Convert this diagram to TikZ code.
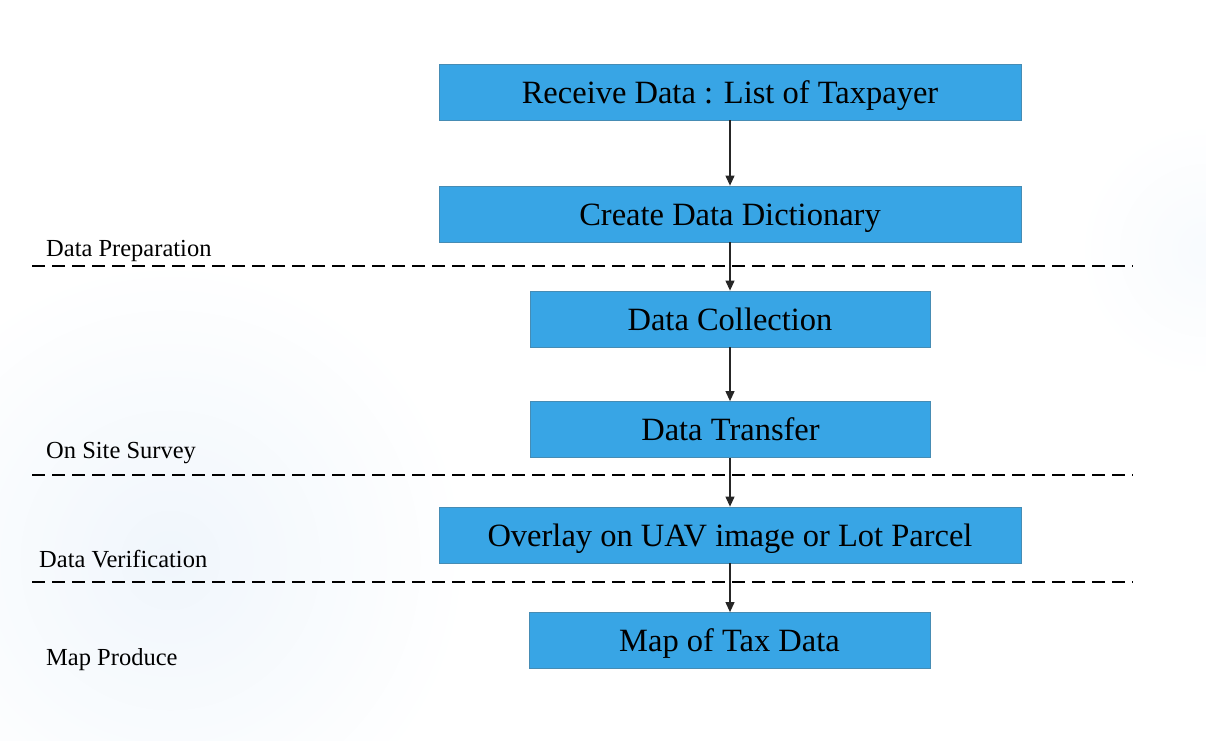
\documentclass[tikz,border=0pt]{standalone}
\usepackage{fontspec}
\setmainfont{Liberation Serif}
\usetikzlibrary{arrows.meta}
\definecolor{boxblue}{RGB}{56,165,229}
\definecolor{boxedge}{RGB}{70,140,180}
\definecolor{bgblue}{RGB}{240,246,252}
\begin{document}
\begin{tikzpicture}[x=1pt,y=-1pt,
  stepbox/.style={rectangle,fill=boxblue,draw=boxedge,line width=0.8pt,inner sep=0pt,
    minimum height=56pt,text height=24pt,text depth=2pt,font=\fontsize{32.5}{38}\selectfont},
  widebox/.style={stepbox,minimum width=582pt},
  narrowbox/.style={stepbox,minimum width=400pt},
  phase/.style={anchor=base west,inner sep=0pt,font=\fontsize{24.5}{29}\selectfont},
  sep/.style={line width=1.3pt,dash pattern=on 13pt off 7pt},
  flow/.style={line width=1.1pt,draw=black!85,-{Triangle[length=10pt,width=9pt]}}]
\useasboundingbox (0,0) rectangle (1206,740);
\fill[white] (0,0) rectangle (1206,740);
\begin{scope}
\clip (0,0) rectangle (1206,740);
\shade[inner color=bgblue,outer color=white] (170,560) circle (300);
\shade[inner color=bgblue!50,outer color=white] (1206,250) circle (130);
\end{scope}
% boxes
\node[widebox] (n1) at (730,92) {Receive Data : List of Taxpayer};
\node[widebox] (n2) at (730,214) {Create Data Dictionary};
\node[narrowbox] (n3) at (730,319) {Data Collection};
\node[narrowbox] (n4) at (730.5,429.5) {Data Transfer};
\node[widebox] (n5) at (730,535) {Overlay on UAV image or Lot Parcel};
\node[narrowbox,minimum width=401pt] (n6) at (729.5,640.5) {Map of Tax Data};
% phase separators
\coordinate (s1a) at (32,266); \coordinate (s1b) at (1133,266);
\coordinate (s2a) at (32,475); \coordinate (s2b) at (1133,475);
\coordinate (s3a) at (32,582); \coordinate (s3b) at (1133,582);
\draw[sep] (s1a) -- (s1b);
\draw[sep] (s2a) -- (s2b);
\draw[sep] (s3a) -- (s3b);
% phase labels
\node[phase] (l1) at (46,256) {Data Preparation};
\node[phase] (l2) at (46,458) {On Site Survey};
\node[phase] (l3) at (39,567) {Data Verification};
\node[phase] (l4) at (46,665) {Map Produce};
% arrows
\draw[flow] (n1.south) -- (n2.north);
\draw[flow] (n2.south) -- (n3.north);
\draw[flow] (n3.south) -- (n4.north -| n3.south);
\draw[flow] (n4.south -| n3.south) -- (n5.north);
\draw[flow] (n5.south) -- (n6.north -| n5.south);
\end{tikzpicture}
\end{document}
